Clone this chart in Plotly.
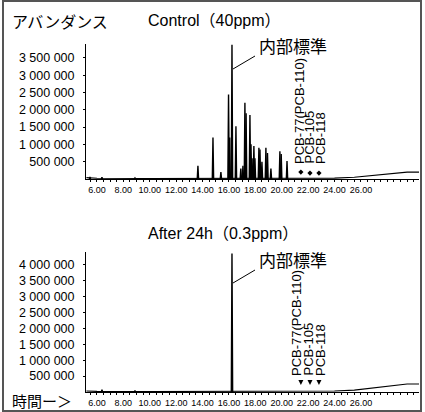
import plotly.graph_objects as go

W, H = 425, 412

# ---------------- data ----------------
x_tick_vals = [6, 8, 10, 12, 14, 16, 18, 20, 22, 24, 26]
x_tick_labels = ["6.00", "8.00", "10.00", "12.00", "14.00", "16.00",
                 "18.00", "20.00", "22.00", "24.00", "26.00"]

ctrl_y_ticks = [500000, 1000000, 1500000, 2000000, 2500000, 3000000, 3500000]
ctrl_y_labels = ["500 000", "1 000 000", "1 500 000", "2 000 000",
                 "2 500 000", "3 000 000", "3 500 000"]
after_y_ticks = [500000, 1000000, 1500000, 2000000, 2500000, 3000000,
                 3500000, 4000000]
after_y_labels = ["500 000", "1 000 000", "1 500 000", "2 000 000",
                  "2 500 000", "3 000 000", "3 500 000", "4 000 000"]

# Control (40 ppm) peaks: retention time (min), abundance
ctrl_peak_times = [5.47, 6.38, 8.88, 13.65, 14.79, 15.39, 15.97, 16.06, 16.23,
                   16.53, 16.9, 17.06, 17.21, 17.3, 17.59, 17.67, 17.75, 17.89,
                   17.97, 18.27, 18.35, 18.5, 18.8, 18.92, 19.18, 19.86, 19.96,
                   20.4]
ctrl_peak_heights = [60000, 50000, 30000, 380000, 1200000, 200000, 2440000,
                     1200000, 3880000, 1520000, 300000, 380000, 2200000,
                     1900000, 1850000, 1000000, 600000, 950000, 600000,
                     900000, 850000, 500000, 900000, 750000, 300000, 800000,
                     720000, 520000]
ctrl_base_times = [5.2, 6.0, 10.0, 14.0, 20.0, 22.0, 24.0, 25.5, 27.0, 28.5,
                   29.5, 30.4]
ctrl_base_vals = [40000, 20000, 15000, 20000, 25000, 20000, 25000, 50000,
                  100000, 170000, 200000, 200000]

# After 24 h (0.3 ppm) peaks
after_peak_times = [6.38, 8.88, 16.23]
after_peak_heights = [70000, 50000, 4350000]
after_base_times = [5.2, 6.0, 10.0, 14.0, 20.0, 22.0, 24.0, 25.5, 27.0, 28.5,
                    29.5, 30.4]
after_base_vals = [30000, 20000, 15000, 15000, 20000, 20000, 30000, 60000,
                   130000, 210000, 250000, 250000]

pcb_names = ["PCB-77(PCB-110)", "PCB-105", "PCB-118"]
pcb_times = [21.45, 22.14, 22.82]
ctrl_pcb_marks = [200000, 170000, 170000]
after_pcb_marks = [220000, 220000, 220000]

x_range = [5.17, 30.4]
ctrl_y_range = [0, 3900000]
after_y_range = [0, 4400000]


def py(px):
    return 1 - px / H


def pxx(px):
    return px / W


def spikes(times, heights, w=0.05):
    xs, ys = [], []
    for t, h in zip(times, heights):
        xs += [t - w, t, t + w, None]
        ys += [0, h, 0, None]
    return xs, ys


fig = go.Figure()

LINE = dict(color="black", width=1.4)
BASE = dict(color="black", width=1.1)

# top panel
cx, cy = spikes(ctrl_peak_times, ctrl_peak_heights)
fig.add_trace(go.Scatter(x=ctrl_base_times, y=ctrl_base_vals, mode="lines",
                         line=BASE, xaxis="x", yaxis="y", hoverinfo="skip"))
fig.add_trace(go.Scatter(x=cx, y=cy, mode="lines", line=LINE,
                         xaxis="x", yaxis="y", hoverinfo="skip"))
fig.add_trace(go.Scatter(x=pcb_times, y=ctrl_pcb_marks, mode="markers",
                         marker=dict(symbol="diamond", size=4, color="black"),
                         xaxis="x", yaxis="y", hoverinfo="skip"))

# bottom panel
ax_, ay_ = spikes(after_peak_times, after_peak_heights)
fig.add_trace(go.Scatter(x=after_base_times, y=after_base_vals, mode="lines",
                         line=BASE, xaxis="x2", yaxis="y2", hoverinfo="skip"))
fig.add_trace(go.Scatter(x=ax_, y=ay_, mode="lines", line=LINE,
                         xaxis="x2", yaxis="y2", hoverinfo="skip"))
fig.add_trace(go.Scatter(x=pcb_times, y=after_pcb_marks, mode="markers",
                         marker=dict(symbol="arrow-down", size=5, color="black"),
                         xaxis="x2", yaxis="y2", hoverinfo="skip"))

TICKFONT_X = dict(family="Liberation Sans Narrow, Liberation Sans", size=9,
                  color="black")
TICKFONT_Y = dict(family="Liberation Sans", size=12.5, color="black")
xdom = [pxx(86), pxx(419)]

xcommon = dict(range=x_range, domain=xdom, showline=True, linecolor="black",
               linewidth=1, showgrid=False, zeroline=False,
               tickmode="array", tickvals=x_tick_vals, ticktext=x_tick_labels,
               ticks="outside", ticklen=2, tickcolor="black", tickwidth=1,
               tickfont=TICKFONT_X, tickangle=0,
               minor=dict(dtick=0.5, tick0=0, ticks="outside", ticklen=2,
                          tickcolor="black", tickwidth=1))
ycommon = dict(showline=True, linecolor="black", linewidth=1, showgrid=False,
               zeroline=False, tickmode="array", ticks="outside", ticklen=2,
               tickcolor="black", tickfont=TICKFONT_Y, ticklabelstandoff=6)

fig.update_layout(
    width=W, height=H, margin=dict(l=0, r=0, t=0, b=0),
    paper_bgcolor="white", plot_bgcolor="white", showlegend=False,
    xaxis=dict(xcommon, anchor="y"),
    yaxis=dict(ycommon, domain=[py(179), py(44)], range=ctrl_y_range,
               tickvals=ctrl_y_ticks, ticktext=ctrl_y_labels, anchor="x"),
    xaxis2=dict(xcommon, anchor="y2"),
    yaxis2=dict(ycommon, domain=[py(392), py(252)], range=after_y_range,
                tickvals=after_y_ticks, ticktext=after_y_labels, anchor="x2"),
)

JP = "Noto Sans CJK JP"
TXT = "Liberation Sans, Noto Sans CJK JP"
ann = []


def text(s, x, y, size, family=TXT, angle=0, xanchor="center", yanchor="middle"):
    ann.append(dict(text=s, x=pxx(x), y=py(y), xref="paper", yref="paper",
                    showarrow=False, textangle=angle, xanchor=xanchor,
                    yanchor=yanchor, font=dict(family=family, size=size,
                                               color="black")))


text("アバンダンス", 10, 21, 16, family=JP, xanchor="left")
text("Control（40ppm）", 214, 21, 16)
text("After 24h（0.3ppm）", 223, 233, 16)
text("時間ー＞", 10, 400, 15, family=JP, xanchor="left")
text("内部標準", 293, 46, 17, family=JP)
text("内部標準", 293, 259, 17, family=JP)

# PCB labels (rotated)
for name, xc in zip(pcb_names, [299, 309, 320]):
    text(name, xc, 166, 13, family="Liberation Sans", angle=-90,
         yanchor="bottom")
for name, xc in zip(pcb_names, [296, 308, 320]):
    text(name, xc, 378, 13, family="Liberation Sans", angle=-90,
         yanchor="bottom")

fig.update_layout(annotations=ann)

shapes = [
    dict(type="line", xref="paper", yref="paper", x0=pxx(233), y0=py(69),
         x1=pxx(255), y1=py(56), line=dict(color="black", width=1)),
    dict(type="line", xref="paper", yref="paper", x0=pxx(233), y0=py(283),
         x1=pxx(255), y1=py(270), line=dict(color="black", width=1)),
    dict(type="rect", xref="paper", yref="paper", x0=pxx(3), y0=py(411),
         x1=pxx(421), y1=py(1), line=dict(color="#555", width=2)),
]
fig.update_layout(shapes=shapes)

fig.write_html("out.html", config={"displayModeBar": False},
               post_script="document.body.style.margin='0px';"
                           "document.body.style.padding='0px';")
